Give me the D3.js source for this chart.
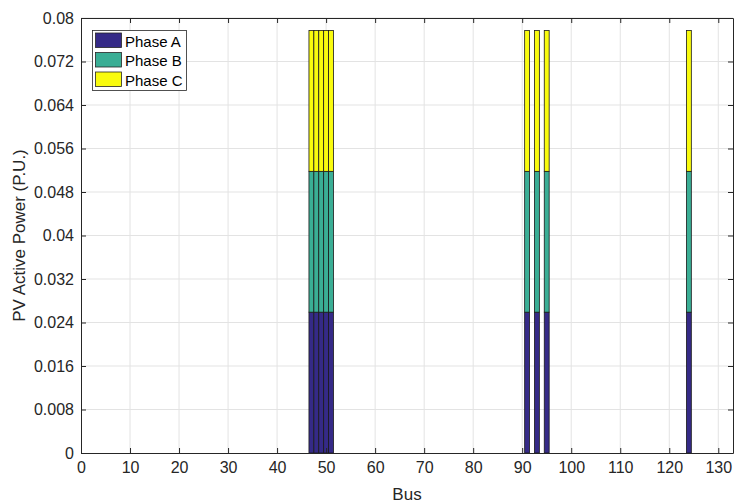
<!DOCTYPE html>
<html><head><meta charset="utf-8">
<script src="https://cdn.jsdelivr.net/npm/d3@7"></script>
<style>body{margin:0;background:#fff;} text{font-family:"Liberation Sans",Arial,sans-serif;}</style>
</head><body>
<svg id="c" width="736" height="504"></svg>
<script>
const buses = [47, 48, 49, 50, 51, 91, 93, 95, 124];
const phaseA = [0.0259, 0.0259, 0.0259, 0.0259, 0.0259, 0.0259, 0.0259, 0.0259, 0.0259];
const phaseB = [0.0259, 0.0259, 0.0259, 0.0259, 0.0259, 0.0259, 0.0259, 0.0259, 0.0259];
const phaseC = [0.0259, 0.0259, 0.0259, 0.0259, 0.0259, 0.0259, 0.0259, 0.0259, 0.0259];
const seriesNames = ["Phase A", "Phase B", "Phase C"];
const colors = ["#352a87", "#3aae95", "#f9fb0e"];
const xTicks = [0,10,20,30,40,50,60,70,80,90,100,110,120,130];
const yTicks = [0,0.008,0.016,0.024,0.032,0.04,0.048,0.056,0.064,0.072,0.08];
const yTickLabels = ["0","0.008","0.016","0.024","0.032","0.04","0.048","0.056","0.064","0.072","0.08"];

const svg = d3.select("#c");
const L = 81, R = 733, T = 18, B = 453;
const x = d3.scaleLinear().domain([0, 133]).range([L, R]);
const y = d3.scaleLinear().domain([0, 0.08]).range([B, T]);

// grid
const g = svg.append("g");
g.selectAll(".gx").data(xTicks.filter(d=>d>0)).enter().append("line")
  .attr("x1", d=>x(d)).attr("x2", d=>x(d)).attr("y1", T).attr("y2", B)
  .attr("stroke", "#e3e3e3").attr("stroke-width", 1);
g.selectAll(".gy").data(yTicks.filter(d=>d>0)).enter().append("line")
  .attr("y1", d=>y(d)).attr("y2", d=>y(d)).attr("x1", L).attr("x2", R)
  .attr("stroke", "#e3e3e3").attr("stroke-width", 1);

// stacked bars
const rows = buses.map((b,i)=>({bus:b, "Phase A":phaseA[i], "Phase B":phaseB[i], "Phase C":phaseC[i]}));
const stack = d3.stack().keys(seriesNames)(rows);
const bw = x(1) - x(0);
stack.forEach((s, si) => {
  svg.append("g").selectAll("rect").data(s).enter().append("rect")
    .attr("x", d => x(d.data.bus) - bw/2)
    .attr("width", bw)
    .attr("y", d => y(d[1]))
    .attr("height", d => y(d[0]) - y(d[1]))
    .attr("fill", colors[si])
    .attr("stroke", "#1a1a1a").attr("stroke-width", 0.8);
});

// axes (MATLAB box with inward ticks)
const xAxisB = d3.axisBottom(x).tickValues(xTicks).tickSizeInner(-5).tickSizeOuter(0).tickPadding(9);
const xAxisT = d3.axisTop(x).tickValues(xTicks).tickSizeInner(-5).tickSizeOuter(0).tickFormat("");
const yAxisL = d3.axisLeft(y).tickValues(yTicks).tickSizeInner(-5).tickSizeOuter(0).tickPadding(7)
  .tickFormat((d,i)=>yTickLabels[i]);
const yAxisR = d3.axisRight(y).tickValues(yTicks).tickSizeInner(-5).tickSizeOuter(0).tickFormat("");

function style(sel){
  sel.selectAll("path").attr("stroke","#262626");
  sel.selectAll("line").attr("stroke","#262626");
  sel.selectAll("text").attr("fill","#262626").style("font-size","16px").style("font-family","'Liberation Sans',Arial,sans-serif");
}
svg.append("g").attr("transform",`translate(0,${B})`).call(xAxisB).call(style);
svg.append("g").attr("transform",`translate(0,${T})`).call(xAxisT).call(style);
svg.append("g").attr("transform",`translate(${L},0)`).call(yAxisL).call(style);
svg.append("g").attr("transform",`translate(${R},0)`).call(yAxisR).call(style);

// axis labels
svg.append("text").attr("x", (L+R)/2).attr("y", 500).attr("text-anchor","middle")
  .attr("fill","#262626").style("font-size","17px").text("Bus");
svg.append("text").attr("transform",`translate(25,${(T+B)/2}) rotate(-90)`).attr("text-anchor","middle")
  .attr("fill","#262626").style("font-size","17px").text("PV Active Power (P.U.)");

// legend
const lg = svg.append("g");
lg.append("rect").attr("x",92.5).attr("y",30.5).attr("width",94).attr("height",60)
  .attr("fill","#fff").attr("stroke","#262626").attr("stroke-width",0.8);
seriesNames.forEach((n,i)=>{
  const yy = 33 + i*19.5;
  lg.append("rect").attr("x",95.5).attr("y",yy).attr("width",26).attr("height",14.5)
    .attr("fill",colors[i]).attr("stroke","#262626").attr("stroke-width",0.8);
  lg.append("text").attr("x",125).attr("y",yy+13.5).attr("fill","#000")
    .style("font-size","15px").text(n);
});
</script>
</body></html>
